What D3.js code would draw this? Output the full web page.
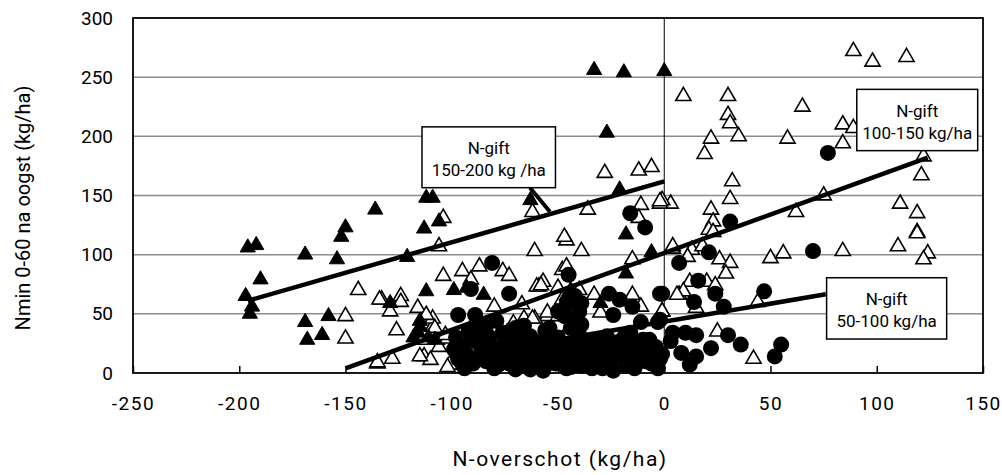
<!DOCTYPE html>
<html>
<head>
<meta charset="utf-8">
<script src="https://cdn.jsdelivr.net/npm/d3@7"></script>
<style>
  body { margin: 0; background: #fff; }
  text { font-family: Roboto, "Liberation Sans", sans-serif; fill: #000; }
</style>
</head>
<body>
<svg id="chart" width="1002" height="475"></svg>
<script>
// N-gift 150-200 kg/ha (filled triangles)
let gift150_200 = [
  [-196,106],[-192,108],[-190,79],[-197,65],[-194,56],[-195,50],[-169,100],[-154,96],
  [-152,115],[-150,123],[-136,138],[-169,43],[-158,48],[-168,28],[-161,32],[-112,148],
  [-109,148],[-63,146],[-113,122],[-106,128],[-121,98],[-112,69],[-99,70],[-93,72],
  [-85,66],[-129,59],[-115,39],[-116,34],[-118,30],[-33,256],[-19,254],[0,255],
  [-27,203],[-21,155],[-18,117],[-6,102],[-18,84],[-30,59],[-46,65],[-44,70],
  [-115,44],[-111,30],[-108,28]
];

// N-gift 100-150 kg/ha (open triangles)
let gift100_150 = [
  [89,272],[98,263],[114,267],[9,234],[30,234],[30,218],[31,211],[22,198],[35,200],
  [19,185],[65,225],[58,198],[84,210],[89,207],[84,194],[122,183],[121,167],[32,162],
  [31,147],[111,143],[119,135],[119,119],[75,150],[62,136],[22,138],[23,128],[21,121],
  [3,143],[-1,146],[4,105],[13,104],[18,107],[11,98],[26,96],[31,93],[29,84],[50,97],
  [56,101],[84,103],[110,107],[124,101],[122,96],[119,118],[23,119],[12,77],[20,77],
  [24,74],[7,66],[9,69],[15,55],[44,60],[-1,52],[25,35],[42,12],
  [-11,142],[-2,143],[-36,138],[-46,112],[-61,103],[-39,103],[-15,96],[4,107],
  [-48,87],[-46,90],[-57,77],[-59,73],[-50,72],[-40,70],[-33,66],[-48,62],[-15,66],
  [-11,56],[6,66],[-30,51],[-1,52],[-55,48],[-50,48],[-61,46],[-46,34],[-18,7],
  [-106,107],[-104,131],[-104,82],[-95,86],[-87,90],[-91,79],[-76,86],[-73,82],[-60,73],
  [-133,62],[-124,65],[-124,60],[-129,52],[-116,55],[-126,36],[-80,56],[-67,58],
  [-71,42],[-66,46],[-62,46],[-135,8],[-128,12],[-113,14],[-110,11],[-114,28],
  [-109,39],[-107,28],[-106,22],[-102,29],[-101,7],[-74,34],[-109,46],[-112,49],
  [-144,70],[-134,62],[-150,48],[-150,29],[-135,9],[-58,74],[-55,51],[-108,38],
  [-103,32],[-115,14],[-45,34],[-102,5],[-35,5],
  [-28,169],[-12,171],[-6,174],[-2,145],[-62,136],[-12,131],[-47,115]
];

// N-gift 50-100 kg/ha (filled circles)
let gift50_100 = [
  [77,186],[31,128],[70,103],[21,102],[7,93],[16,78],[-2,67],[24,67],[14,60],[28,56],
  [47,69],[-2,45],[4,34],[10,34],[15,32],[3,27],[30,32],[36,24],[22,21],[8,17],
  [15,14],[12,7],[55,24],[52,14],[-2,12],
  [-16,135],[-9,123],[-45,83],[-1,67],[-26,67],[-21,62],[-15,56],[-39,59],[-40,52],
  [-24,49],[-39,41],[-11,43],[-3,43],[-16,34],[-27,31],[-33,28],[-54,38],[-11,18],
  [-3,14],[-23,19],[-26,5],[-41,11],[-54,19],[-63,28],
  [-81,93],[-73,67],[-91,71],[-97,49],[-89,49],[-84,39],[-63,31],
  [-98,30],[-95,22],[-97,12],[-93,16],[-90,8],[-88,26],[-86,18],[-84,10],[-82,30],
  [-80,4],[-79,20],[-77,14],[-75,26],[-73,8],[-72,18],[-70,3],[-68,24],[-67,12],
  [-65,32],[-64,6],[-62,18],[-60,10],[-58,26],[-57,2],[-55,14],[-53,22],[-51,8],
  [-50,30],[-48,16],[-46,4],[-45,24],[-43,12],[-41,28],[-39,6],[-37,18],[-35,10],
  [-33,24],[-31,14],[-29,4],[-27,20],[-25,10],[-22,26],[-20,14],[-18,6],[-15,22],
  [-13,12],[-10,28],[-8,18],[-6,8],[-4,22],[-1,16],[-92,36],[-76,34],[-66,40],
  [-56,36],[-44,38],[-47,48],[-46,58],[-50,52],
  [-99,20],[-94,4],[-91,28],[-87,12],[-85,33],[-83,22],[-81,14],[-78,7],[-74,20],
  [-71,30],[-69,14],[-66,22],[-63,3],[-61,25],[-59,16],[-56,6],[-54,28],[-52,16],
  [-49,10],[-47,22],[-44,5],[-42,18],[-40,32],[-38,12],[-36,26],[-34,4],[-32,18],
  [-30,10],[-28,26],[-26,16],[-24,2],[-21,20],[-19,30],[-17,12],[-14,4],[-12,24],
  [-9,10],[-7,28],[-5,14],[-3,4],[-44,46],[-42,65],[-89,40],[-79,44],[-70,38]
];

// trend lines per group: [x0, y0, x1, y1]
let fit150_200 = [-196, 61, 0, 162];
let fit100_150 = [-150, 4, 124, 182];
let fit50_100 = [-100, 13, 76, 66.5];

let xTicks = [-250, -200, -150, -100, -50, 0, 50, 100, 150];
let yTicks = [0, 50, 100, 150, 200, 250, 300];

let noteTitles = ["N-gift", "N-gift", "N-gift"];
let noteRanges = ["150-200 kg /ha", "100-150 kg/ha", "50-100 kg/ha"];

const svg = d3.select("#chart");
const plot = {left: 133, right: 983, top: 18, bottom: 373};

let x = d3.scaleLinear().domain([-250, 150]).range([plot.left, plot.right]);
let y = d3.scaleLinear().domain([0, 300]).range([plot.bottom, plot.top]);

// gridlines
svg.append("g")
    .selectAll("line")
    .data(yTicks.filter(d => d > 0 && d < 300))
    .enter().append("line")
    .attr("x1", plot.left).attr("x2", plot.right)
    .attr("y1", d => y(d)).attr("y2", d => y(d))
    .attr("stroke", "#8c8c8c").attr("stroke-width", 1.5);

// vertical line at 0
svg.append("line")
    .attr("x1", x(0)).attr("x2", x(0))
    .attr("y1", plot.top).attr("y2", plot.bottom)
    .attr("stroke", "#000").attr("stroke-width", 1);

// x axis (ticks point inward)
let xAxis = svg.append("g")
    .attr("transform", `translate(0, ${plot.bottom})`)
    .call(d3.axisBottom(x).tickValues(xTicks).tickSizeInner(-7).tickSizeOuter(0)
        .tickPadding(24).tickFormat(d => d));
xAxis.select(".domain").remove();
xAxis.selectAll("line").attr("stroke", "#000").attr("stroke-width", 1.5);
xAxis.selectAll("text").attr("font-size", 19).style("letter-spacing", "1.5px")
    .attr("font-family", "Roboto");

let yAxis = svg.append("g")
    .attr("transform", `translate(${plot.left}, 0)`)
    .call(d3.axisLeft(y).tickValues(yTicks).tickSize(0).tickPadding(20));
yAxis.select(".domain").remove();
yAxis.selectAll("text").attr("font-size", 19).attr("font-family", "Roboto");

// markers
let tri = d3.symbol().type(d3.symbolTriangle).size(100);

svg.append("g").selectAll("path")
    .data(gift100_150)
    .enter().append("path")
    .attr("d", tri)
    .attr("transform", d => `translate(${x(d[0])}, ${y(d[1])})`)
    .attr("fill", "#fff").attr("stroke", "#000").attr("stroke-width", 1.6);

svg.append("g").selectAll("path")
    .data(gift150_200)
    .enter().append("path")
    .attr("d", tri)
    .attr("transform", d => `translate(${x(d[0])}, ${y(d[1])})`)
    .attr("fill", "#000").attr("stroke", "#000").attr("stroke-width", 1);

svg.append("g").selectAll("circle")
    .data(gift50_100)
    .enter().append("circle")
    .attr("cx", d => x(d[0])).attr("cy", d => y(d[1]))
    .attr("r", 8).attr("fill", "#000");

// trend lines
svg.append("g").selectAll("line")
    .data([fit150_200, fit100_150, fit50_100])
    .enter().append("line")
    .attr("x1", d => x(d[0])).attr("y1", d => y(d[1]))
    .attr("x2", d => x(d[2])).attr("y2", d => y(d[3]))
    .attr("stroke", "#000").attr("stroke-width", 4.5);

// plot frame
svg.append("rect")
    .attr("x", plot.left).attr("y", plot.top)
    .attr("width", plot.right - plot.left).attr("height", plot.bottom - plot.top)
    .attr("fill", "none").attr("stroke", "#000").attr("stroke-width", 1.8);

// annotation boxes, placed in data units
let noteBoxes = [
  {x0: -114, x1: -51.2, y0: 208, y1: 156.6},
  {x0: 90.6, x1: 147.5, y0: 239.7, y1: 187.9},
  {x0: 76.4, x1: 132.9, y0: 80.5, y1: 28.7}
];

// pointer from first box to its trend line
svg.append("line")
    .attr("x1", x(-63.2)).attr("y1", y(156.6))
    .attr("x2", x(-53.8)).attr("y2", y(136.3))
    .attr("stroke", "#000").attr("stroke-width", 4);

let notes = svg.append("g").selectAll("g")
    .data(noteBoxes)
    .enter().append("g");

notes.append("rect")
    .attr("x", d => x(d.x0)).attr("y", d => y(d.y0))
    .attr("width", d => x(d.x1) - x(d.x0)).attr("height", d => y(d.y1) - y(d.y0))
    .attr("fill", "#fff").attr("stroke", "#000").attr("stroke-width", 1.5);

notes.append("text")
    .attr("x", d => (x(d.x0) + x(d.x1)) / 2)
    .attr("y", d => (y(d.y0) + y(d.y1)) / 2 - 9)
    .attr("text-anchor", "middle").attr("dominant-baseline", "central")
    .attr("font-size", 17)
    .text((d, i) => noteTitles[i]);

notes.append("text")
    .attr("x", d => (x(d.x0) + x(d.x1)) / 2)
    .attr("y", d => (y(d.y0) + y(d.y1)) / 2 + 13)
    .attr("text-anchor", "middle").attr("dominant-baseline", "central")
    .attr("font-size", 17)
    .text((d, i) => noteRanges[i]);

// axis titles
svg.append("text")
    .attr("transform", "translate(30, 208) rotate(-90)")
    .attr("text-anchor", "middle")
    .attr("font-size", 20)
    .text("Nmin 0-60 na oogst (kg/ha)");

svg.append("text")
    .attr("x", 560).attr("y", 466)
    .attr("text-anchor", "middle")
    .attr("font-size", 21)
    .style("letter-spacing", "1.5px")
    .text("N-overschot (kg/ha)");
</script>
</body>
</html>
